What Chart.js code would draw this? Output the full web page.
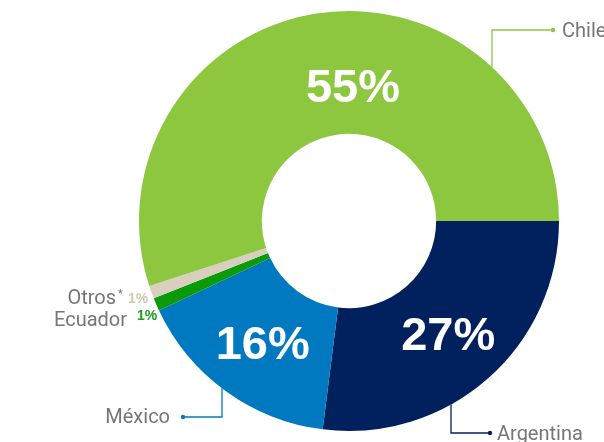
<!DOCTYPE html>
<html>
<head>
<meta charset="utf-8">
<script src="https://cdn.jsdelivr.net/npm/chart.js@4"></script>
<style>
  html, body { margin: 0; padding: 0; background: #fff; }
  #wrap { width: 604px; height: 442px; position: relative; }
</style>
</head>
<body>
<div id="wrap"><canvas id="myChart"></canvas></div>
<script>
// data, in drawing order starting at 3 o'clock going clockwise
const countries = ["Argentina", "México", "Ecuador", "Otros", "Chile"];
const shares = [27, 16, 1, 1, 55];
const sliceColors = ["#00215E", "#0079C1", "#0A9A0A", "#D8CFBF", "#8DC63F"];

const FONT = "'Liberation Sans', Arial, sans-serif";
const NAME_FONT = "Roboto, 'Liberation Sans', sans-serif";

// big % labels inside the slices + the small ones outside, leader lines
const sliceLabels = {
  id: 'sliceLabels',
  afterDatasetsDraw(chart) {
    const { ctx } = chart;
    const arcs = chart.getDatasetMeta(0).data;
    const cx = arcs[0].x, cy = arcs[0].y, r = arcs[0].outerRadius;

    ctx.save();
    // percentages
    ctx.fillStyle = '#fff';
    ctx.font = "bold 47px " + FONT;
    ctx.textAlign = 'center';
    ctx.textBaseline = 'alphabetic';
    [0, 1].forEach((i) => {
      const p = arcs[i].tooltipPosition();
      ctx.fillText(shares[i] + '%', p.x + 1, p.y + 18);
    });
    // Chile label sits near the top
    ctx.fillText(shares[4] + '%', cx + 4, cy - 119);

    // leader lines
    const leader = (color, x, yEnd, xEnd) => {
      const dy = Math.sqrt(r * r - (x - cx) * (x - cx));
      const yStart = yEnd < cy ? cy - dy : cy + dy;
      ctx.strokeStyle = color;
      ctx.lineWidth = 1.3;
      ctx.beginPath();
      ctx.moveTo(x, yStart);
      ctx.lineTo(x, yEnd);
      ctx.lineTo(xEnd, yEnd);
      ctx.stroke();
      ctx.fillStyle = color;
      ctx.beginPath();
      ctx.arc(xEnd, yEnd, 2.2, 0, Math.PI * 2);
      ctx.fill();
    };
    leader(sliceColors[4], cx + 143, cy - 191, cx + 204);
    leader(sliceColors[0], cx + 102, cy + 212, cx + 141);
    leader(sliceColors[1], cx - 127, cy + 196, cx - 166);

    // country names
    ctx.fillStyle = '#767676';
    ctx.font = "20px " + NAME_FONT;
    ctx.textBaseline = 'alphabetic';
    ctx.textAlign = 'left';
    ctx.fillText(countries[4], cx + 213, cy - 184);
    ctx.fillText(countries[0], cx + 148, cy + 219);
    ctx.textAlign = 'right';
    ctx.fillText(countries[1], cx - 179, cy + 202);
    ctx.fillText(countries[3], cx - 233, cy + 83);
    ctx.fillText(countries[2], cx - 222, cy + 105);
    ctx.font = "11px " + NAME_FONT;
    ctx.textAlign = 'left';
    ctx.fillText('*', cx - 231, cy + 76);

    // small shares
    ctx.font = "bold 14px " + FONT;
    ctx.fillStyle = '#D2C7B2';
    ctx.fillText(shares[3] + '%', cx - 221, cy + 82);
    ctx.fillStyle = '#1E9A1E';
    ctx.fillText(shares[2] + '%', cx - 212, cy + 99);
    ctx.restore();
  }
};

const ctx = document.getElementById("myChart");

const myChart = new Chart(ctx, {
  type: "doughnut",
  plugins: [sliceLabels],
  data: {
    labels: countries,
    datasets: [
      {
        data: shares,
        backgroundColor: sliceColors,
        borderWidth: 0,
      },
    ],
  },
  options: {
    responsive: true,
    maintainAspectRatio: false,
    animation: false,
    rotation: 90,
    cutout: '41.5%',
    layout: {
      padding: { left: 139, right: 45, top: 11, bottom: 11 },
    },
    plugins: {
      legend: { display: false },
      tooltip: { enabled: false },
      title: { display: false },
    },
  },
});
</script>
</body>
</html>
